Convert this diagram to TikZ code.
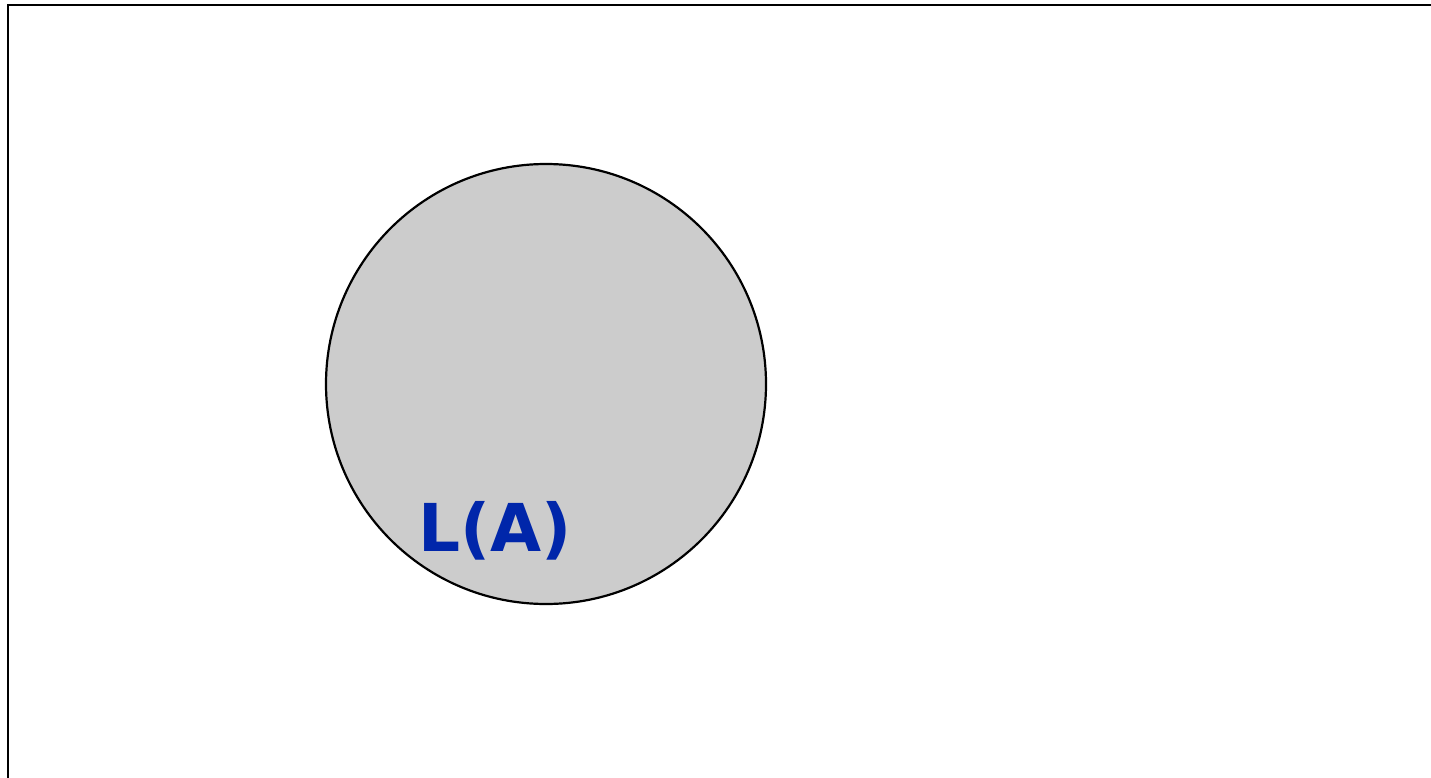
\documentclass[tikz,border=0pt]{standalone}
\usepackage{fontspec}
\newfontfamily\labelfont{DejaVu Sans}
\definecolor{labelblue}{RGB}{0,38,170}
\definecolor{setgray}{RGB}{204,204,204}
\tikzset{
  setcircle/.style={circle, draw=black, fill=setgray, line width=2.2pt, minimum size=440pt, inner sep=0pt},
  setlabel/.style={text=labelblue, font=\labelfont\bfseries\fontsize{66}{70}\selectfont, inner sep=0pt},
  frameline/.style={draw=black, line width=2.4pt}
}
\begin{document}
\begin{tikzpicture}[x=1pt,y=-1pt]
\useasboundingbox (0,0) rectangle (1431,778);
\coordinate (ftl) at (8,5);
\coordinate (ftr) at (1440,5);
\coordinate (fbl) at (8,790);
\draw[frameline] (fbl) -- (ftl) -- (ftr);
\node[setcircle] (A) at (546,384) {};
\node[setlabel] (LA) at (495,531) {L(A)};
\end{tikzpicture}
\end{document}
